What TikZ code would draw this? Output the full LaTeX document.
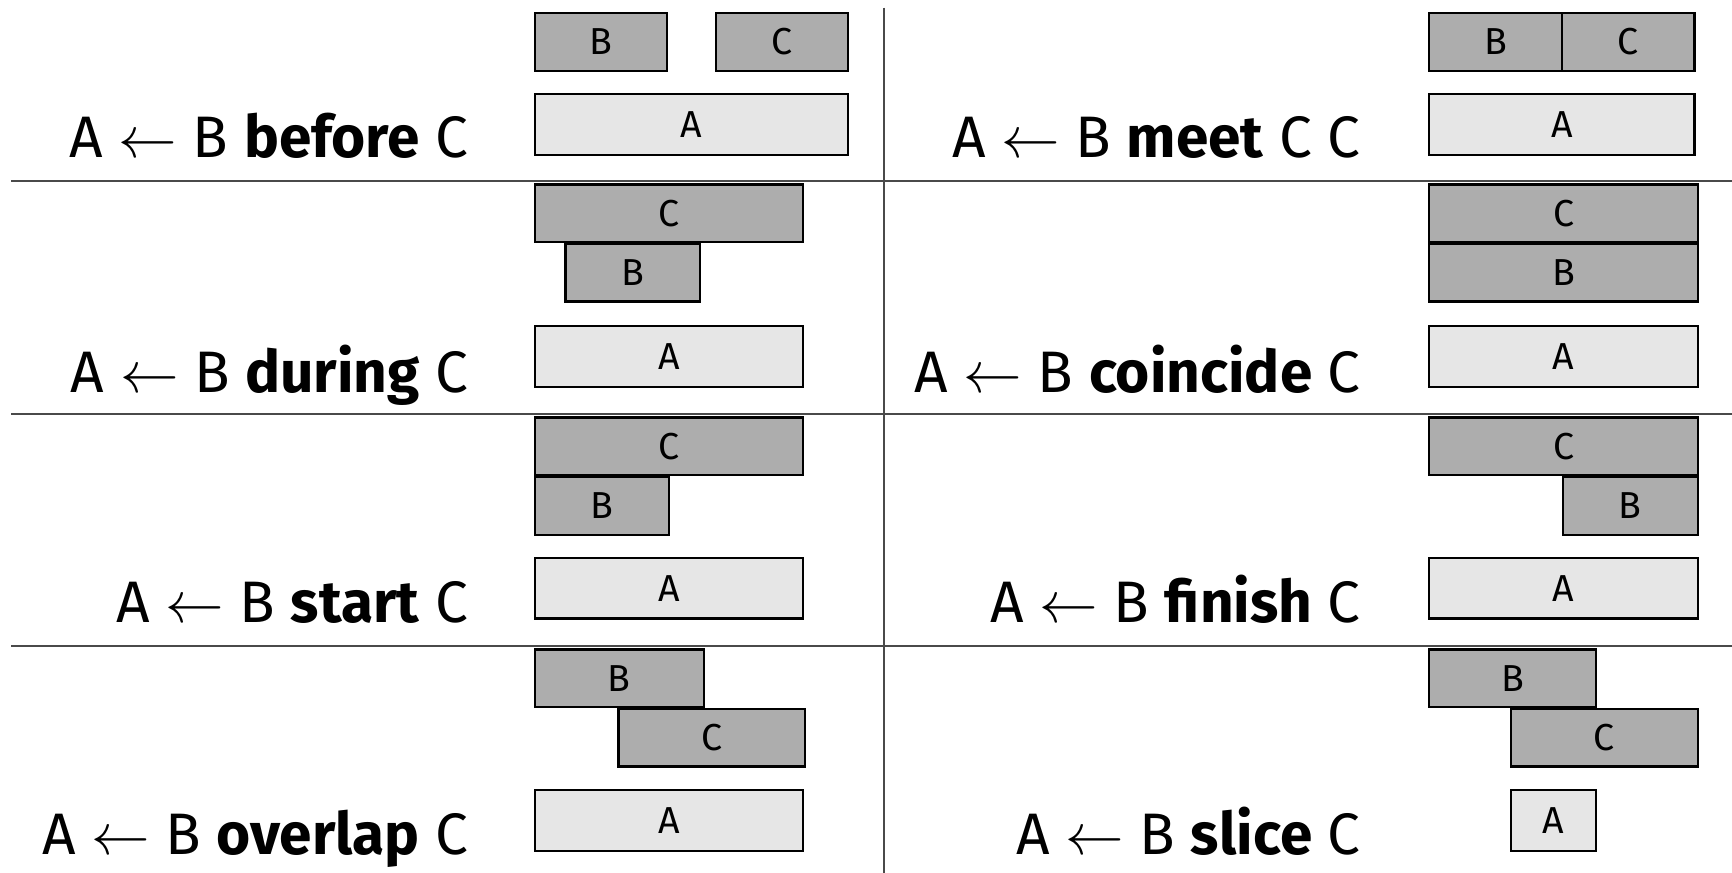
\RequirePackage{fix-cm}
\documentclass[tikz,border=0pt]{standalone}
\usepackage{fontspec}
\setmainfont{Fira Sans}
\definecolor{barfill}{HTML}{ADADAD}
\definecolor{basefill}{HTML}{E6E6E6}
\definecolor{rulegray}{HTML}{4A4A4A}
\tikzset{
  interval/.style={draw=black, line width=2pt, inner sep=0pt, outer sep=0pt,
    font=\fontsize{34}{36}\selectfont},
  bar/.style={interval, fill=barfill, minimum height=52pt},
  basebar/.style={interval, fill=basefill, minimum height=55pt},
  relation/.style={anchor=base east, inner sep=0pt, font=\fontsize{53}{60}\selectfont},
  separator/.style={draw=rulegray, line width=1.6pt},
}
\newcommand{\rel}[1]{A $\leftarrow$ B \textbf{#1} C}
\begin{document}
\begin{tikzpicture}[x=1pt, y=-1pt]
\useasboundingbox (0,0) rectangle (1568,790);

% separators
\coordinate (h1l) at (10,164);  \coordinate (h1r) at (1568,164);
\coordinate (h2l) at (10,375);  \coordinate (h2r) at (1568,375);
\coordinate (h3l) at (10,585);  \coordinate (h3r) at (1568,585);
\coordinate (vt) at (800,7);    \coordinate (vb) at (800,790);
\draw[separator] (h1l) -- (h1r);
\draw[separator] (h2l) -- (h2r);
\draw[separator] (h3l) -- (h3r);
\draw[separator] (vt) -- (vb);

% before
\node[bar, minimum width=120pt] (beB) at (544,38) {B};
\node[bar, minimum width=120pt] (beC) at (708,38) {C};
\node[basebar, minimum width=284pt] (beA) at (626,112.5) {A};
\node[relation] (beL) at (424,143) {\rel{before}};

% meet
\node[bar, minimum width=120pt] (meB) at (1354,38) {B};
\node[bar, minimum width=120pt] (meC) at (1474,38) {C};
\node[basebar, minimum width=240pt] (meA) at (1414,112.5) {A};
\node[relation] (meL) at (1232,143) {A $\leftarrow$ B \textbf{meet} C C};

% during
\node[bar, minimum width=243pt] (duC) at (605.5,193) {C};
\node[bar, minimum width=122pt] (duB) at (573,247) {B};
\node[basebar, minimum width=243pt] (duA) at (605.5,322.5) {A};
\node[relation] (duL) at (424,355) {\rel{during}};

% coincide
\node[bar, minimum width=243pt] (coC) at (1415.5,193) {C};
\node[bar, minimum width=243pt] (coB) at (1415.5,247) {B};
\node[basebar, minimum width=243pt] (coA) at (1415.5,322.5) {A};
\node[relation] (coL) at (1232,355) {\rel{coincide}};

% start
\node[bar, minimum width=243pt] (stC) at (605.5,404) {C};
\node[bar, minimum width=122pt] (stB) at (545,458) {B};
\node[basebar, minimum width=243pt] (stA) at (605.5,532.5) {A};
\node[relation] (stL) at (424,564) {\rel{start}};

% finish
\node[bar, minimum width=243pt] (fiC) at (1415.5,404) {C};
\node[bar, minimum width=122pt] (fiB) at (1476,458) {B};
\node[basebar, minimum width=243pt] (fiA) at (1415.5,532.5) {A};
\node[relation] (fiL) at (1232,564) {\rel{finish}};

% overlap
\node[bar, minimum width=153pt] (ovB) at (560.5,614) {B};
\node[bar, minimum width=169pt] (ovC) at (644.5,668) {C};
\node[basebar, minimum width=243pt] (ovA) at (605.5,743) {A};
\node[relation] (ovL) at (424,774) {\rel{overlap}};

% slice
\node[bar, minimum width=151pt] (slB) at (1369.5,614) {B};
\node[bar, minimum width=169pt] (slC) at (1452.5,668) {C};
\node[basebar, minimum width=77pt] (slA) at (1406.5,743) {A};
\node[relation] (slL) at (1232,774) {\rel{slice}};
\end{tikzpicture}
\end{document}
